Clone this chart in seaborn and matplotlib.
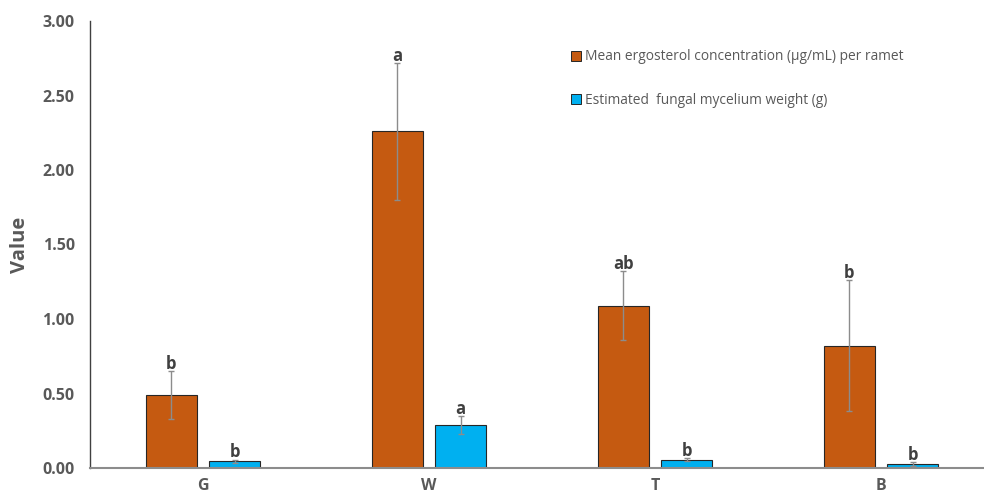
import matplotlib
matplotlib.use("Agg")
import matplotlib.pyplot as plt
from matplotlib.lines import Line2D
import seaborn as sns
import pandas as pd

# Data
sites = ["G", "W", "T", "B"]
series_names = ["Mean ergosterol concentration (\u00b5g/mL) per ramet",
                "Estimated  fungal mycelium weight (g)"]
ergosterol = [0.49, 2.26, 1.09, 0.82]
ergosterol_err = [0.16, 0.46, 0.23, 0.44]
mycelium = [0.045, 0.29, 0.055, 0.025]
mycelium_err = [0.012, 0.06, 0.010, 0.012]
ergosterol_letters = ["b", "a", "ab", "b"]
mycelium_letters = ["b", "a", "b", "b"]
y_ticks = [0.0, 0.5, 1.0, 1.5, 2.0, 2.5, 3.0]

colors = ["#C55A11", "#00B0F0"]
text_gray = "#595959"

df = pd.DataFrame({
    "site": sites * 2,
    "series": [series_names[0]] * 4 + [series_names[1]] * 4,
    "value": ergosterol + mycelium,
})

sns.set_style("white")
plt.rcParams["font.family"] = ["Open Sans", "DejaVu Sans"]

fig = plt.figure(figsize=(9.84, 4.93), dpi=100)
ax = fig.add_axes([90 / 984, 25 / 493, 904 / 984, 447 / 493])

sns.barplot(data=df, x="site", y="value", hue="series", order=sites,
            hue_order=series_names, palette=colors, saturation=1,
            width=0.56, gap=0.19, edgecolor="#262626", linewidth=0.8,
            errorbar=None, ax=ax, legend=False)

errs = [ergosterol_err, mycelium_err]
letters = [ergosterol_letters, mycelium_letters]
vals = [ergosterol, mycelium]
bar_groups = list(ax.containers)
for k, cont in enumerate(bar_groups):
    for i, patch in enumerate(cont.patches):
        xc = patch.get_x() + patch.get_width() / 2
        v = vals[k][i]
        e = errs[k][i]
        ax.errorbar(xc, v, yerr=e, fmt="none", ecolor="#8c8c8c",
                    elinewidth=1.0, capsize=2.5, capthick=1.0, zorder=3)
        ax.text(xc, v + e - 0.012, letters[k][i], ha="center", va="bottom",
                fontsize=12, fontweight="bold", color="#404040", zorder=4)

ax.set_ylim(0, 3.0)
ax.set_xlim(-0.5, 3.5)
ax.set_yticks(y_ticks)
ax.set_yticklabels([f"{t:.2f}" for t in y_ticks])
ax.tick_params(axis="both", length=0, labelsize=11.5, labelcolor=text_gray)
ax.tick_params(axis="y", pad=11)
ax.tick_params(axis="x", pad=7)
for lab in ax.get_xticklabels() + ax.get_yticklabels():
    lab.set_fontweight("bold")
ax.set_xlabel("")
ax.set_ylabel("Value", fontsize=14.5, fontweight="bold", color=text_gray, labelpad=9)

for side in ["top", "right"]:
    ax.spines[side].set_visible(False)
ax.spines["left"].set_color("#404040")
ax.spines["left"].set_linewidth(1.0)
ax.spines["bottom"].set_color("#8c8c8c")
ax.spines["bottom"].set_linewidth(1.5)

handles = [Line2D([], [], marker="s", linestyle="none", markersize=7.5,
                  markerfacecolor=c, markeredgecolor="#262626",
                  markeredgewidth=0.7) for c in colors]
fig.legend(handles, series_names, loc="upper left",
           bbox_to_anchor=(557 / 984, 1 - 37 / 493), frameon=False,
           fontsize=9.9, labelcolor=text_gray, handletextpad=0.15,
           labelspacing=2.1, handlelength=1.0)

fig.savefig("out.png", dpi=100)
